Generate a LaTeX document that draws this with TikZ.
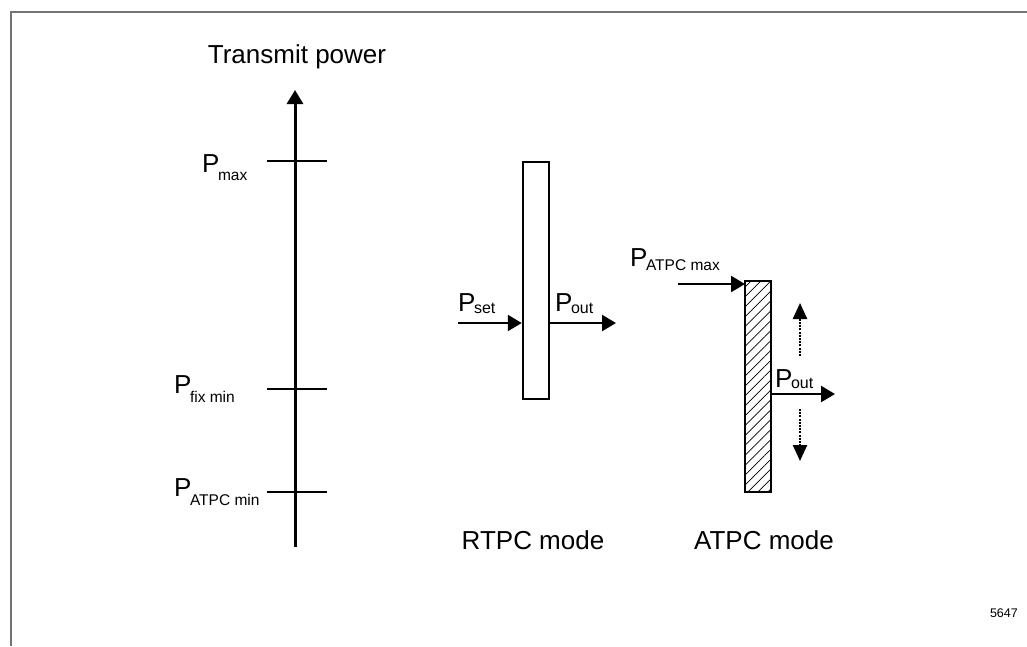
\documentclass[tikz,border=0pt]{standalone}
\usepackage{fontspec}
\setmainfont{Liberation Sans}
\usetikzlibrary{arrows.meta,patterns.meta}
\newcommand{\biglbl}[3]{\fontsize{26}{30}\selectfont P\hspace{-1.5pt}\raisebox{-#2pt}{\fontsize{#3}{16}\selectfont #1}}
\tikzset{
  frameline/.style={draw=black!55,line width=1.4pt},
  axisline/.style={line width=3pt,-{Triangle[length=14pt,width=16pt]}},
  tickline/.style={line width=1.1pt},
  flow/.style={line width=2.4pt,-{Triangle[length=14pt,width=16pt]}},
  dotflow/.style={line width=2.4pt,dash pattern=on 2pt off 1.2pt,-{Triangle[length=16pt,width=14pt]}},
  powerbox/.style={draw,line width=2.5pt,inner sep=0pt,fill=white},
  lbl/.style={inner sep=0pt,anchor=base west},
  txt/.style={inner sep=0pt,anchor=base,font=\fontsize{26}{30}\selectfont}
}
\begin{document}
\begin{tikzpicture}[x=1pt,y=-1pt]
\useasboundingbox (0,0) rectangle (1027,646);
% frame
\draw[frameline] (11,646) -- (11,12) -- (1027,12);
% axis
\coordinate (axb) at (295,547);
\coordinate (axt) at (295,90);
\draw[axisline] (axb) -- (axt);
\node[txt] (title) at (297,63) {Transmit power};
% ticks
\coordinate (tmaxl) at (267,161); \coordinate (tmaxr) at (327,161);
\coordinate (tfixl) at (267,389); \coordinate (tfixr) at (327,389);
\coordinate (tatpl) at (267,492); \coordinate (tatpr) at (327,492);
\draw[tickline] (tmaxl) -- (tmaxr);
\draw[tickline] (tfixl) -- (tfixr);
\draw[tickline] (tatpl) -- (tatpr);
\node[lbl] (pmax) at (202,172) {\biglbl{max}{8}{15.5}};
\node[lbl] (pfix) at (174,393) {\biglbl{fix min}{9}{15.5}};
\node[lbl] (patpmin) at (174,496) {\biglbl{ATPC min}{9}{15.5}};
% RTPC
\node[powerbox,minimum width=26pt,minimum height=237pt] (rtpc) at (536,280.5) {};
\coordinate (psetin) at (458,323);
\coordinate (poutr) at (616,323);
\draw[flow] (psetin) -- (psetin -| rtpc.west);
\draw[flow] (poutr -| rtpc.east) -- (poutr);
\node[lbl] (pset) at (458,311) {\biglbl{set}{2}{16}};
\node[lbl] (pout1) at (555,311) {\biglbl{out}{2}{16}};
\node[txt] (rtpcl) at (533,549) {RTPC mode};
% ATPC
\node[powerbox,outer sep=0pt,minimum width=26pt,minimum height=211pt,postaction={pattern={Lines[angle=45,distance=7pt,line width=0.7pt]}}] (atpc) at (758,386.5) {};
\draw[line width=2.5pt] (atpc.south west) rectangle (atpc.north east);
\coordinate (patin) at (678,284);
\coordinate (pouta) at (835,394);
\draw[flow] (patin) -- (patin -| atpc.west);
\draw[flow] (pouta -| atpc.east) -- (pouta);
\node[lbl] (patmax) at (630,266) {\biglbl{ATPC max}{4}{15.5}};
\node[lbl] (pout2) at (775,387) {\biglbl{out}{1}{16}};
\coordinate (upa) at (800,356); \coordinate (upb) at (800,303);
\coordinate (dna) at (800,409); \coordinate (dnb) at (800,461);
\draw[dotflow] (upa) -- (upb);
\draw[dotflow] (dna) -- (dnb);
\node[txt] (atpcl) at (764,549) {ATPC mode};
% figure number
\node[inner sep=0pt,anchor=base east,font=\fontsize{12.5}{14}\selectfont] (fignum) at (1018,617) {5647};
\end{tikzpicture}
\end{document}
